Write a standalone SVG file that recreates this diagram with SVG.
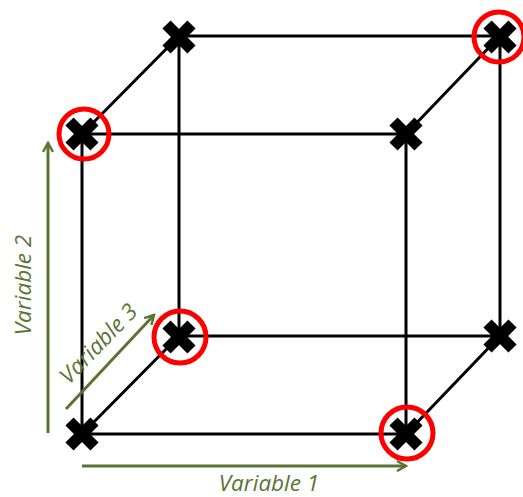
<svg xmlns="http://www.w3.org/2000/svg" width="523" height="497" viewBox="0 0 523 497">
<defs>
<style>
.edge{stroke:#000;stroke-width:3;fill:none}
.x{stroke:#000;stroke-width:11.5;stroke-linecap:butt;fill:none}
.ring{stroke:#f00;stroke-width:5;fill:none}
.ax{stroke:#5c7433;stroke-width:3;fill:none}
.lbl{font-family:"Open Sans","Liberation Sans",sans-serif;font-style:italic;font-size:22.5px;fill:#5c7433}
</style>
<marker id="ah" viewBox="0 0 12 12" refX="10" refY="6" markerWidth="12" markerHeight="12" markerUnits="userSpaceOnUse" orient="auto">
<path d="M1,1 L10,6 L1,11" fill="none" stroke="#5c7433" stroke-width="2.5"/>
</marker>
<path id="xm" class="x" d="M-12.5,-12.5 L12.5,12.5 M-12.5,12.5 L12.5,-12.5"/>
</defs>
<rect width="523" height="497" fill="#fff"/>
<g id="connectors">
<path class="edge" d="M82,134 H406 V434 H82 Z"/>
<path class="edge" d="M179,36 H500 V336 H179 Z"/>
<path class="edge" d="M82,134 L179,36 M406,134 L500,36 M406,434 L500,336 M82,434 L179,336"/>
</g>
<g id="n1"><use href="#xm" x="82" y="134"/><circle class="ring" cx="84" cy="134" r="25"/></g>
<g id="n2"><use href="#xm" x="406" y="134"/></g>
<g id="n3"><use href="#xm" x="82" y="434"/></g>
<g id="n4"><use href="#xm" x="406" y="434"/><circle class="ring" cx="407" cy="433" r="26"/></g>
<g id="n5"><use href="#xm" x="179" y="37"/></g>
<g id="n6"><use href="#xm" x="500" y="37"/><circle class="ring" cx="499" cy="37" r="25"/></g>
<g id="n7"><use href="#xm" x="179" y="337"/><circle class="ring" cx="180" cy="337" r="26"/></g>
<g id="n8"><use href="#xm" x="500" y="336"/></g>
<g id="axes">
<path class="ax" d="M48,433 V143" marker-end="url(#ah)"/>
<path class="ax" d="M82,466 H406" marker-end="url(#ah)"/>
<path class="ax" d="M66,409 L154,315" marker-end="url(#ah)"/>
<text class="lbl" x="269" y="491" text-anchor="middle">Variable 1</text>
<text class="lbl" transform="translate(31,285) rotate(-90)" text-anchor="middle">Variable 2</text>
<text class="lbl" transform="translate(104,349) rotate(-46)" text-anchor="middle">Variable 3</text>
</g>
</svg>
